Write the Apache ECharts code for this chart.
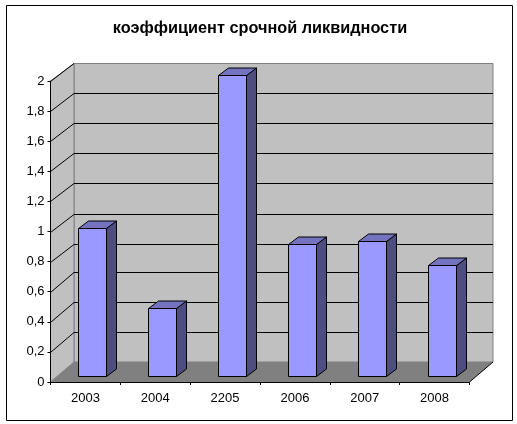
<!DOCTYPE html>
<html><head><meta charset="utf-8">
<style>html,body{margin:0;padding:0;background:#fff}#c{width:517px;height:424px}</style>
<script src="https://cdn.jsdelivr.net/npm/echarts@6/dist/echarts.min.js"></script>
</head><body><div id="c"></div>
<script>
var titleText = 'коэффициент срочной ликвидности';
var categories = ['2003','2004','2205','2006','2007','2008'];
var values = [0.98,0.45,2,0.875,0.895,0.735];
var gridValues = [0.2,0.4,0.6,0.8,1,1.2,1.4,1.6,1.8,2];

var WALL_DX = 23.5, WALL_DY_TOP = 18, WALL_DY_BOTTOM = 20;
var BAR_OX = 7, BAR_OY = 6;
var BAR_W = 28, BAR_DX = 10, BAR_DY = 7.5;

function gridDy(v){ return v < 0.7 ? 19.5 : 18; }

var chart = echarts.init(document.getElementById('c'), null, {renderer:'canvas'});
chart.setOption({
  animation:false,
  backgroundColor:'#fff',
  title:{text:titleText,left:255,top:16,textAlign:'center',
    textStyle:{fontFamily:'Liberation Sans',fontWeight:'bold',fontSize:16.3,color:'#000'}},
  grid:{left:50.5,right:47.5,top:81,bottom:42},
  xAxis:{type:'category',data:categories,z:10,
    axisLine:{lineStyle:{color:'#000',width:1}},
    axisTick:{show:true,alignWithLabel:false,length:3,lineStyle:{color:'#000'}},
    axisLabel:{fontFamily:'Liberation Sans',fontSize:13,color:'#000',margin:10},
    splitLine:{show:false}},
  yAxis:{type:'value',min:0,max:2,interval:0.2,z:10,
    axisLine:{show:true,lineStyle:{color:'#000',width:1}},
    axisTick:{show:true,length:3,lineStyle:{color:'#000'}},
    axisLabel:{fontFamily:'Liberation Sans',fontSize:13,color:'#000',margin:6,
      formatter:function(v){return String(+v.toFixed(1)).replace('.',',');}},
    splitLine:{show:false}},
  graphic:[{type:'rect',silent:true,z:-1,shape:{x:6.5,y:5.5,width:506,height:415},
    style:{fill:'#fff',stroke:'#000',lineWidth:1}}],
  series:[
    {type:'custom',z:1,silent:true,data:[0],clip:false,
      renderItem:function(p,api){
        var c=p.coordSys,l=c.x,r=c.x+c.width,t=c.y,b=c.y+c.height,dx=WALL_DX,
            bt=t-WALL_DY_TOP+0.5,bb=b-WALL_DY_BOTTOM;
        return {type:'group',children:[
          {type:'polygon',shape:{points:[[l+dx,bt],[r+dx,bt],[r+dx,bb],[l+dx,bb]]},
            style:{fill:'#c0c0c0',stroke:'#808080',lineWidth:1}},
          {type:'polygon',shape:{points:[[l,t],[l+dx,bt],[l+dx,bb],[l,b]]},
            style:{fill:'#c0c0c0',stroke:'#808080',lineWidth:1}},
          {type:'polygon',shape:{points:[[l,b],[l+dx,bb],[r+dx,bb],[r,b]]},
            style:{fill:'#808080'}},
          {type:'line',shape:{x1:r,y1:b,x2:r+dx,y2:bb},style:{stroke:'#000',lineWidth:1}}
        ]};
      }},
    {type:'custom',z:2,silent:true,clip:false,data:gridValues,
      encode:{y:0},
      renderItem:function(p,api){
        var v=api.value(0),c=p.coordSys,y=api.coord([0,v])[1],
            l=c.x,r=c.x+c.width,dx=WALL_DX;
        var yb=Math.round(y-gridDy(v))+0.5;
        return {type:'group',children:[
          {type:'line',shape:{x1:l,y1:Math.round(y)+0.5,x2:l+dx,y2:yb},style:{stroke:'#000',lineWidth:1}},
          {type:'line',shape:{x1:l+dx,y1:yb,x2:r+dx,y2:yb},style:{stroke:v===2?'#808080':'#000',lineWidth:1}}
        ]};
      }},
    {type:'custom',z:3,silent:true,clip:false,
      data:values.map(function(v,i){return [i,v];}),
      encode:{x:0,y:1},
      renderItem:function(p,api){
        var top=api.coord([api.value(0),api.value(1)]),base=api.coord([api.value(0),0]);
        var x0=Math.round(top[0]+BAR_OX-BAR_W/2)+0.5,x1=x0+BAR_W,
            yt=Math.floor(top[1]-BAR_OY)+0.5,yb=Math.floor(base[1]-BAR_OY)+0.5,
            dx=BAR_DX,dy=BAR_DY;
        var st={stroke:'#000',lineWidth:1};
        return {type:'group',children:[
          {type:'polygon',shape:{points:[[x1,yt],[x1+dx,yt-dy],[x1+dx,yb-dy],[x1,yb]]},
            style:Object.assign({fill:'#4d4d80'},st)},
          {type:'polygon',shape:{points:[[x0,yt],[x0+dx,yt-dy],[x1+dx,yt-dy],[x1,yt]]},
            style:Object.assign({fill:'#7373bf'},st)},
          {type:'rect',shape:{x:x0,y:yt,width:BAR_W,height:yb-yt},
            style:Object.assign({fill:'#9999ff'},st)}
        ]};
      }}
  ]
});
</script></body></html>
